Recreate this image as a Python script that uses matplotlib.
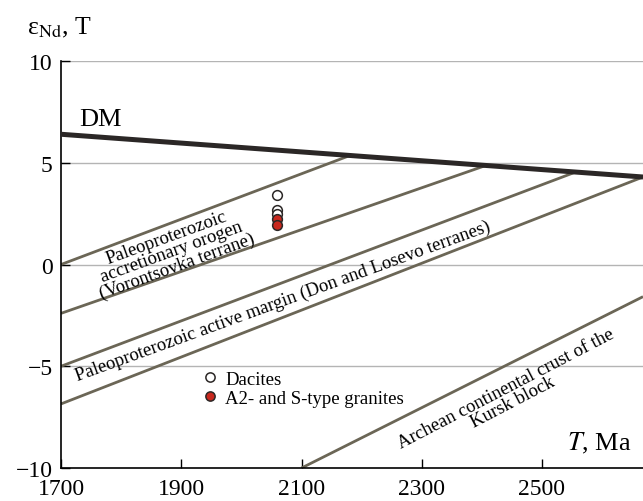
import numpy as np
import matplotlib
matplotlib.use("Agg")
import matplotlib.pyplot as plt

plt.rcParams['font.family'] = ['Liberation Serif', 'DejaVu Serif']
plt.rcParams['mathtext.fontset'] = 'stix'

# depleted mantle line
dm_T = [1700, 2668]
dm_e = [6.4, 4.3]

# crustal evolution lines (start -> end)
evo_T0 = [1700, 1700, 1700, 1700, 2100]
evo_e0 = [0.0, -2.4, -5.0, -6.85, -10.0]
evo_T1 = [2180, 2405, 2552, 2668, 2668]
evo_e1 = [5.35, 4.85, 4.5, 4.3, -1.58]

# samples
dac_T = [2060, 2060, 2060]
dac_e = [3.4, 2.7, 2.5]
gran_T = [2060, 2060]
gran_e = [2.25, 1.95]

xticks = [1700, 1900, 2100, 2300, 2500]
yticks = [-10, -5, 0, 5, 10]

fig = plt.figure(figsize=(6.43, 5.02), dpi=100)
ax = fig.add_axes([0.0949, 0.0657, 0.9051, 0.8108])

ax.set_xlim(1700, 2668)
ax.set_ylim(-10, 10)

for y in [-5, 0, 5, 10]:
    ax.axhline(y, color='#b4b4b4', lw=1.0, zorder=0)

line_col = '#6b6656'
for t0, e0, t1, e1 in zip(evo_T0, evo_e0, evo_T1, evo_e1):
    ax.plot([t0, t1], [e0, e1], color=line_col, lw=2.0, solid_capstyle='butt', zorder=2)

ax.plot(dm_T, dm_e, color='#2b2726', lw=3.6, solid_capstyle='butt', zorder=3)

ax.plot(dac_T, dac_e, 'o', ms=7, mfc='white', mec='#2b2726', mew=1.1, ls='none', zorder=4,
        label='Dacites')
ax.plot(gran_T, gran_e, 'o', ms=7, mfc='#c8281e', mec='#2b2726', mew=1.1, ls='none', zorder=5,
        label='A2- and S-type granites')

leg = ax.legend(loc='center left', bbox_to_anchor=(0.240, 0.195), frameon=False,
                fontsize=13.5, borderpad=0, borderaxespad=0, handlelength=1.0,
                handletextpad=0.3, labelspacing=0.1, markerscale=0.95)

# labels along lines
ax.text(1731, 7.15, 'DM', fontsize=19, ha='left', va='center')
ax.text(1884, 0.64, 'Paleoproterozoic\naccretionary orogen\n(Vorontsovka terrane)',
        fontsize=13.5, rotation=20, ha='center', va='center', linespacing=0.85,
        rotation_mode='anchor')
ax.text(2069, -1.75, 'Paleoproterozoic active margin (Don and Losevo terranes)',
        fontsize=13.5, rotation=20, ha='center', va='center', rotation_mode='anchor')
ax.text(2446, -6.4, 'Archean continental crust of the\nKursk block',
        fontsize=13.5, rotation=27.5, ha='center', va='center', linespacing=0.85,
        rotation_mode='anchor')

# spines / ticks
for s in ['top', 'right']:
    ax.spines[s].set_visible(False)
ax.spines['left'].set_linewidth(1.2)
ax.spines['bottom'].set_linewidth(1.2)
ax.set_xticks(xticks)
ax.set_yticks(yticks)
ax.set_yticklabels(['\u221210', '\u22125', '0', '5', '10'])
ax.tick_params(direction='in', length=6.5, width=1.0, labelsize=17)
ax.tick_params(axis='x', pad=7)
ax.tick_params(axis='y', pad=6)

fig.text(0.042, 0.945, r'ε$_{\mathrm{Nd}}$, T', fontsize=18.5, ha='left', va='center')
ax.text(0.98, 0.062, r'$T$, Ma', transform=ax.transAxes, fontsize=19, ha='right', va='center')

fig.savefig('out.png', dpi=100)
